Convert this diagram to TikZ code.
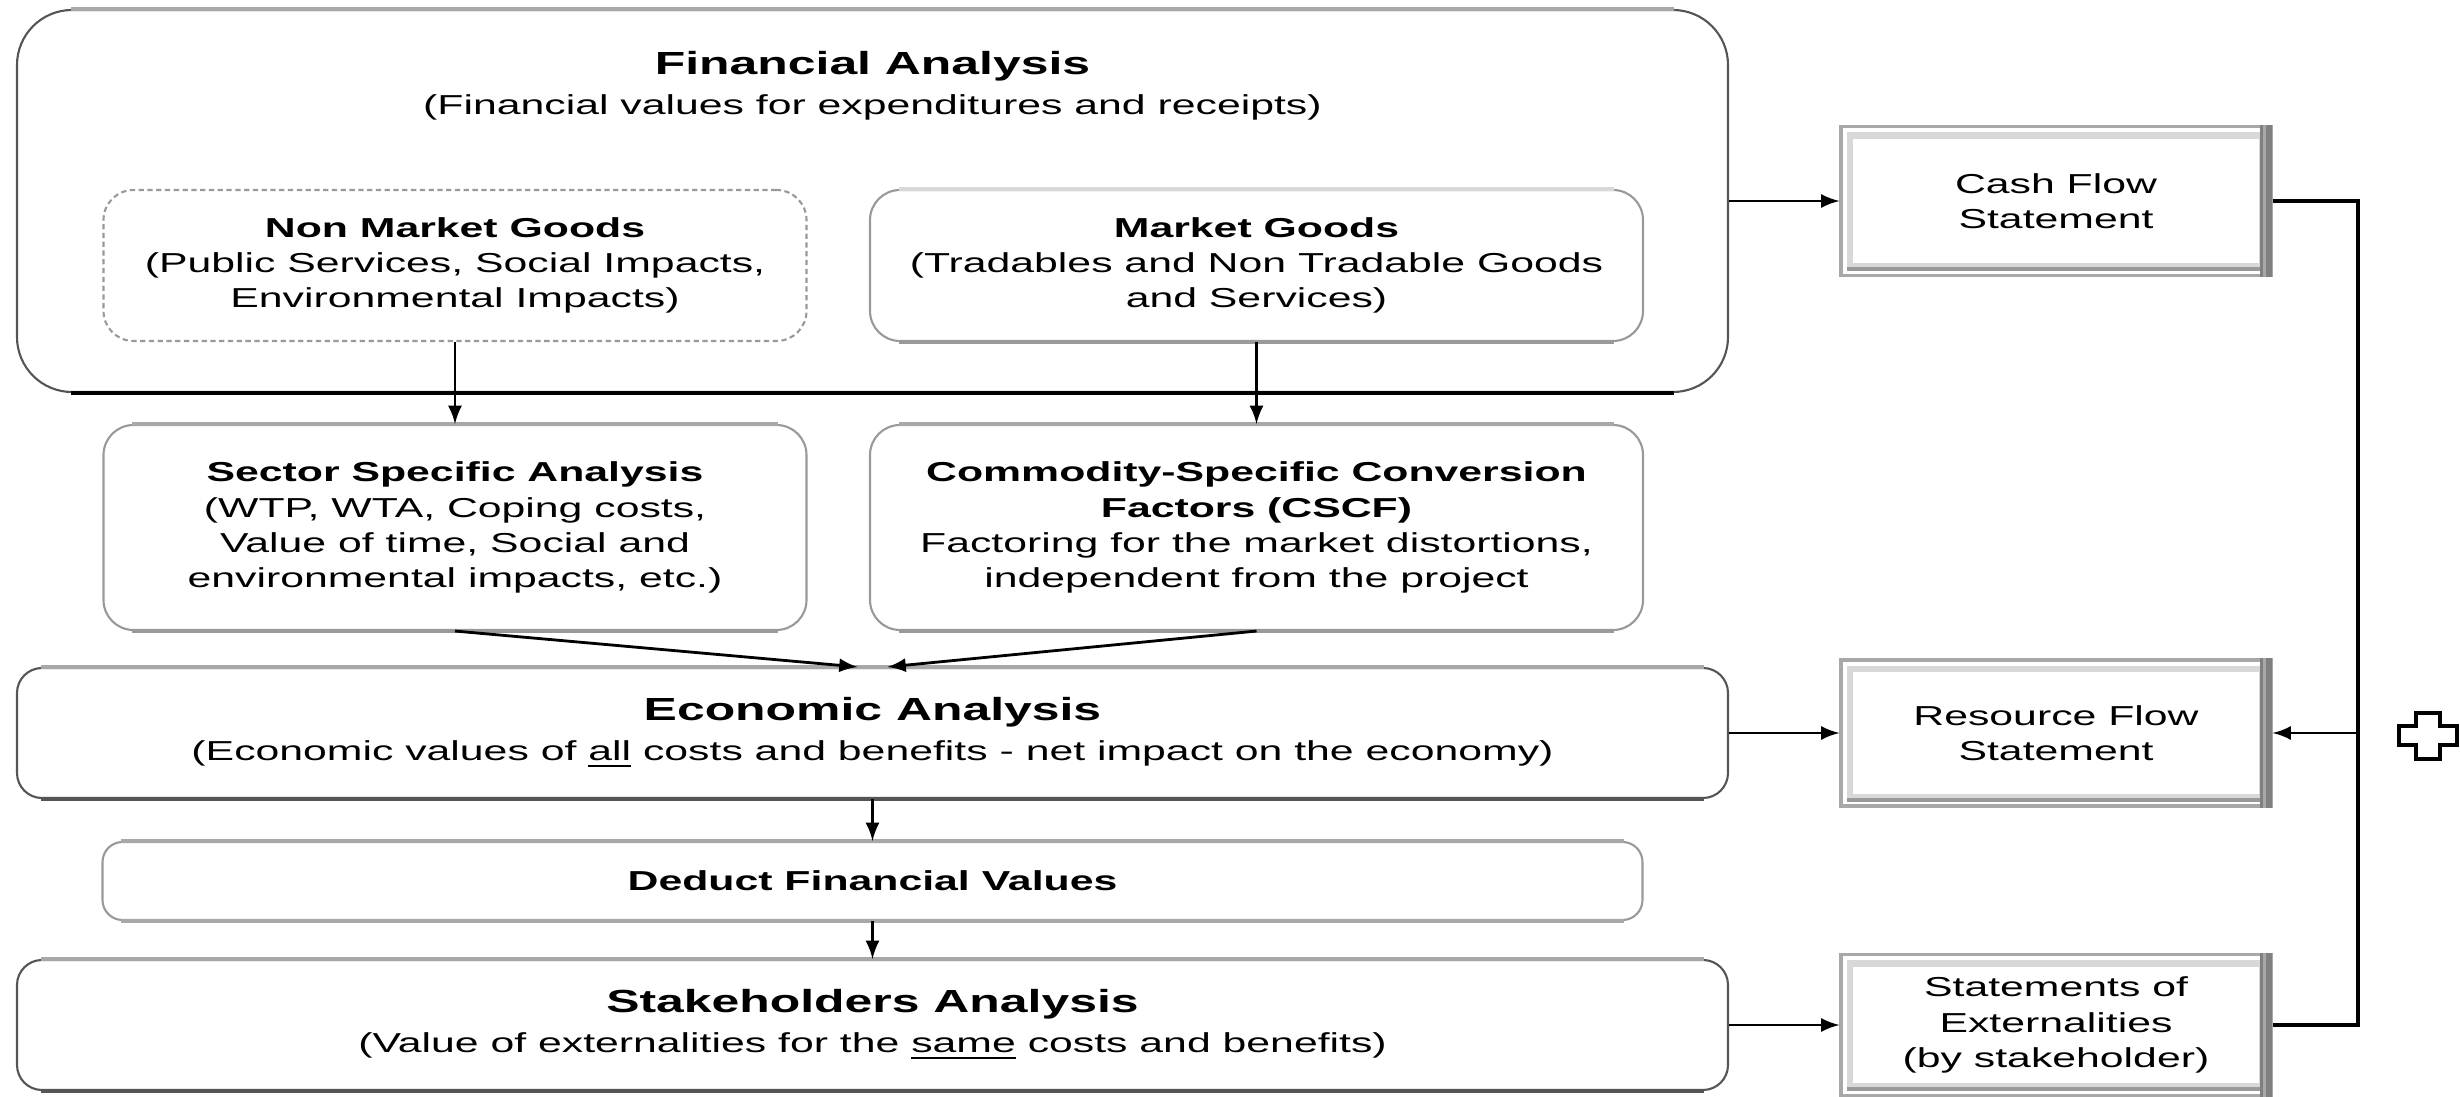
\documentclass[tikz,border=0pt]{standalone}
\usepackage{fontspec}
\setmainfont{Liberation Sans}[FakeStretch=1.56]
\usepackage{tikz}
\usetikzlibrary{calc}

\definecolor{bevtop}{HTML}{A8A8A8}
\definecolor{bevlight}{HTML}{D8D8D8}
\definecolor{bevmid}{HTML}{999999}
\definecolor{bevdark}{HTML}{555555}

\newcommand{\bigtitle}[1]{{\fontsize{9.1pt}{11pt}\selectfont\bfseries #1}}

\begin{document}
\begin{tikzpicture}[x=0.1mm, y=-0.1mm,
	panel/.style={draw=bevdark, line width=0.6pt, fill=white, align=center, inner sep=0pt, font=\fontsize{7.8pt}{10pt}\selectfont},
	stmtbox/.style={draw=bevtop, line width=0.9pt, fill=white, minimum width=43mm, align=center, font=\fontsize{7.8pt}{10pt}\selectfont},
	flow/.style={-latex, line width=0.8pt},
	busline/.style={line width=1.1pt}]
	\useasboundingbox (0,0) rectangle (2460,1097);
	
	% left column
	\node[panel, rounded corners=5.5mm, minimum width=171.1mm, minimum height=38.2mm] (fin) at (872.5,201) {};
	\node[align=center, font=\fontsize{7.8pt}{10pt}\selectfont] (fintitle) at (872.5,86) {\bigtitle{Financial Analysis}\\[1.4pt](Financial values for expenditures and receipts)};
	\node[panel, draw=bevmid, dash pattern=on 1.5pt off 1pt, rounded corners=3mm, minimum width=70.3mm, minimum height=15.1mm] (nm) at (455,265.5) {\textbf{Non Market Goods}\\(Public Services, Social Impacts,\\Environmental Impacts)};
	\node[panel, draw=bevmid, rounded corners=3mm, minimum width=77.3mm, minimum height=15.1mm] (mg) at (1256.5,265.5) {\textbf{Market Goods}\\(Tradables and Non Tradable Goods\\and Services)};
	\node[panel, draw=bevmid, rounded corners=3mm, minimum width=70.3mm, minimum height=20.5mm] (sec) at (455,527.5) {\textbf{Sector Specific Analysis}\\(WTP, WTA, Coping costs,\\Value of time, Social and\\environmental impacts, etc.)};
	\node[panel, draw=bevmid, rounded corners=3mm, minimum width=77.3mm, minimum height=20.5mm] (cscf) at (1256.5,527.5) {\textbf{Commodity-Specific Conversion}\\\textbf{Factors (CSCF)}\\Factoring for the market distortions,\\independent from the project};
	\node[panel, rounded corners=2.5mm, minimum width=171.1mm, minimum height=13mm] (eco) at (872.5,733) {\bigtitle{Economic Analysis}\\[1.4pt](Economic values of \underline{all} costs and benefits - net impact on the economy)};
	\node[panel, draw=bevmid, rounded corners=2mm, minimum width=154mm, minimum height=7.8mm] (ded) at (872.5,881) {\textbf{Deduct Financial Values}};
	\node[panel, rounded corners=2.5mm, minimum width=171.1mm, minimum height=13mm] (stk) at (872.5,1025) {\bigtitle{Stakeholders Analysis}\\[1.4pt](Value of externalities for the \underline{same} costs and benefits)};
	
	% bevelled top and bottom edges
	\foreach \n/\r/\tc/\bc in {fin/5.5mm/bevtop/black, mg/3mm/bevlight/bevmid, sec/3mm/bevtop/bevmid, cscf/3mm/bevtop/bevmid, eco/2.5mm/bevtop/bevdark, ded/2mm/bevtop/bevtop, stk/2.5mm/bevtop/bevdark} {
		\draw[line width=1.3pt, \tc] ([xshift=\r]\n.north west) -- ([xshift=-\r]\n.north east);
		\draw[line width=1.2pt, \bc] ([xshift=\r]\n.south west) -- ([xshift=-\r]\n.south east);
	}
	
	% statements
	\node[stmtbox, minimum height=14.9mm] (cash) at (2056,201) {Cash Flow\\Statement};
	\node[stmtbox, minimum height=14.6mm] (res) at (2056,733) {Resource Flow\\Statement};
	\node[stmtbox, minimum height=14.1mm] (ext) at (2056,1025) {Statements of\\Externalities\\(by stakeholder)};
	\foreach \n in {cash,res,ext} {
		\draw[line width=1.8pt, bevlight] ([shift={(3pt,-3pt)}]\n.north west) rectangle ([shift={(-3pt,3pt)}]\n.south east);
		\draw[line width=1.1pt, bevmid] ([shift={(2.1pt,2.2pt)}]\n.south west) -- ([shift={(-3pt,2.2pt)}]\n.south east);
		\draw[line width=3.4pt, bevdark!75] ([xshift=-1.9pt]\n.north east) -- ([xshift=-1.9pt]\n.south east);
		\draw[line width=1pt, bevtop] ([xshift=-2.3pt]\n.north east) -- ([xshift=-2.3pt]\n.south east);
	}
	
	% connectors
	\draw[flow] (nm) -- (sec);
	\draw[flow] (mg) -- (cscf);
	\draw[flow] (sec.south) -- ([xshift=-1.5mm]eco.north);
	\draw[flow] (cscf.south) -- ([xshift=1.5mm]eco.north);
	\draw[flow] (eco) -- (ded);
	\draw[flow] (ded) -- (stk);
	\draw[flow] (fin.east) -- (cash.west);
	\draw[flow] (eco.east) -- (res.west);
	\draw[flow] (stk.east) -- (ext.west);
	\coordinate (bus) at (2358,201);
	\draw[busline] (cash.east) -- (bus) -- (bus |- ext.east) -- (ext.east);
	\draw[flow] (bus |- res.east) -- (res.east);
	
	% plus sign
	\draw[line width=0.9pt, fill=white] (2416,713) -- (2440,713) -- (2440,726) -- (2457,726) -- (2457,745) -- (2440,745) -- (2440,759) -- (2416,759) -- (2416,745) -- (2399,745) -- (2399,726) -- (2416,726) -- cycle;
\end{tikzpicture}
\end{document}
